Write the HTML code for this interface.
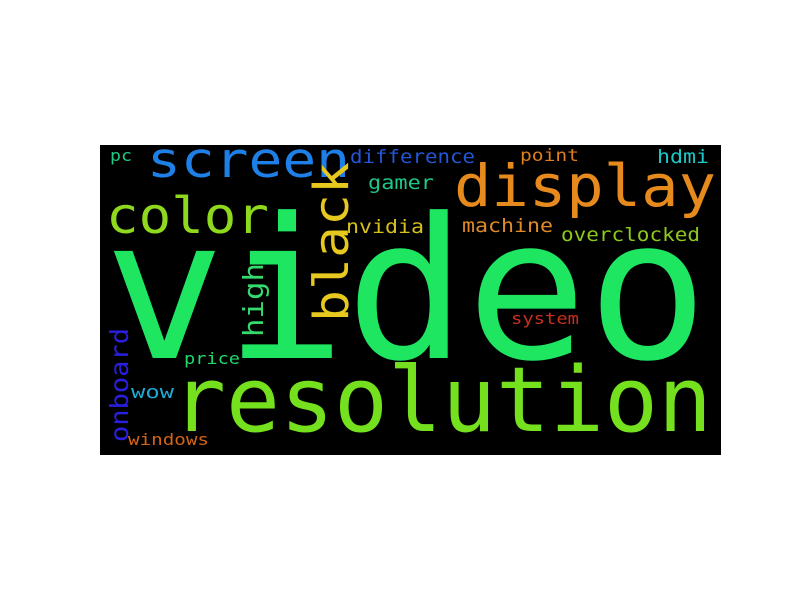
<!DOCTYPE html>
<html><head><meta charset="utf-8"><style>
html,body{margin:0;padding:0;background:#fff;}
svg text{font-family:"DejaVu Sans Mono","Liberation Mono",monospace;}
</style></head><body>
<svg width="800" height="600" viewBox="0 0 800 600">
<rect x="100" y="145" width="621" height="310" fill="#000"/>
<g>
<text x="104" y="358" font-size="196" textLength="604" lengthAdjust="spacingAndGlyphs" fill="#1ee660">video</text>
<text x="172" y="431" font-size="90" textLength="540" lengthAdjust="spacingAndGlyphs" fill="#74e01e">resolution</text>
<text x="147" y="177" font-size="49" textLength="203" lengthAdjust="spacingAndGlyphs" fill="#1e80e6">screen</text>
<text x="106" y="233" font-size="50" textLength="163" lengthAdjust="spacingAndGlyphs" fill="#8ed81e">color</text>
<text x="454" y="206" font-size="58" textLength="262" lengthAdjust="spacingAndGlyphs" fill="#e68a1e">display</text>
<text transform="translate(348,322) rotate(-90)" font-size="48" textLength="160" lengthAdjust="spacingAndGlyphs" fill="#e6c81e">black</text>
<text transform="translate(263,337) rotate(-90)" font-size="28" textLength="74" lengthAdjust="spacingAndGlyphs" fill="#35d96e">high</text>
<text transform="translate(128,442) rotate(-90)" font-size="25" textLength="114" lengthAdjust="spacingAndGlyphs" fill="#2a1fe0">onboard</text>
<text x="350" y="163" font-size="19" textLength="125" lengthAdjust="spacingAndGlyphs" fill="#2356d6">difference</text>
<text x="368" y="189" font-size="19" textLength="66" lengthAdjust="spacingAndGlyphs" fill="#1ec88a">gamer</text>
<text x="346" y="233" font-size="19" textLength="78" lengthAdjust="spacingAndGlyphs" fill="#d6c01e">nvidia</text>
<text x="110" y="161" font-size="16" textLength="22" lengthAdjust="spacingAndGlyphs" fill="#1ec882">pc</text>
<text x="520" y="161" font-size="17" textLength="59" lengthAdjust="spacingAndGlyphs" fill="#e07d1e">point</text>
<text x="657" y="163" font-size="19" textLength="52" lengthAdjust="spacingAndGlyphs" fill="#1ec8c8">hdmi</text>
<text x="462" y="232" font-size="19" textLength="91" lengthAdjust="spacingAndGlyphs" fill="#e08a28">machine</text>
<text x="561" y="241" font-size="19" textLength="139" lengthAdjust="spacingAndGlyphs" fill="#8ec81e">overclocked</text>
<text x="511" y="324" font-size="16" textLength="68" lengthAdjust="spacingAndGlyphs" fill="#c8301e">system</text>
<text x="184" y="364" font-size="16" textLength="56" lengthAdjust="spacingAndGlyphs" fill="#1ed86a">price</text>
<text x="131" y="398" font-size="18" textLength="43" lengthAdjust="spacingAndGlyphs" fill="#1eaad2">wow</text>
<text x="128" y="445" font-size="16" textLength="81" lengthAdjust="spacingAndGlyphs" fill="#d26418">windows</text>
</g>
</svg>
</body></html>
